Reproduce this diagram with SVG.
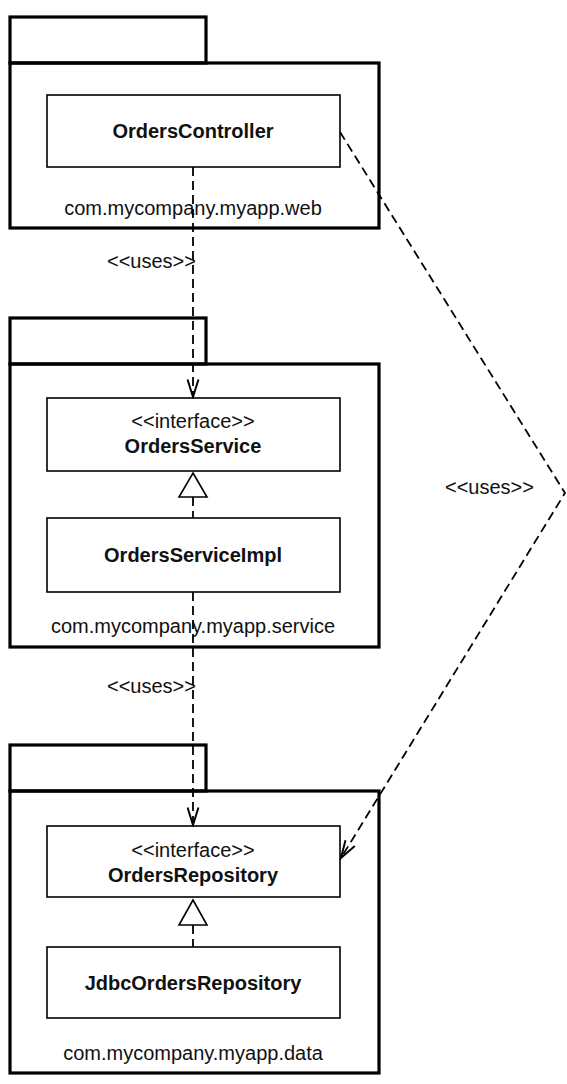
<svg xmlns="http://www.w3.org/2000/svg" width="567" height="1084" viewBox="0 0 567 1084">
<style>
.pkg{fill:none;stroke:#000;stroke-width:3.2}
.cls{fill:#fff;stroke:#000;stroke-width:1.6}
.dash{fill:none;stroke:#000;stroke-width:1.8;stroke-dasharray:9 5}
.tri{fill:#fff;stroke:#000;stroke-width:1.6}
.t{font-family:"Liberation Sans",Arial,sans-serif;fill:#111;text-anchor:middle}
.b{font-size:20px;font-weight:bold}
.n{font-size:20px}
.s{font-size:20px}
.u{font-family:"Liberation Sans",Arial,sans-serif;fill:#111;font-size:20px}
</style>
<defs>
<marker id="open" markerUnits="userSpaceOnUse" markerWidth="24" markerHeight="24" viewBox="-20 -10 22 20" refX="0" refY="0" orient="auto">
<path d="M-16,-5 L0,0 L-16,5" fill="none" stroke="#000" stroke-width="1.8"/>
</marker>
</defs>
<rect width="567" height="1084" fill="#fff"/>
<g id="pkg-web">
<rect class="pkg" x="10" y="17" width="196" height="46"/>
<rect class="pkg" x="10" y="63" width="369" height="165"/>
<text class="t n" x="193" y="215">com.mycompany.myapp.web</text>
</g>
<g id="pkg-service">
<rect class="pkg" x="10" y="318" width="196" height="46"/>
<rect class="pkg" x="10" y="364" width="369" height="283"/>
<text class="t n" x="193" y="633">com.mycompany.myapp.service</text>
</g>
<g id="pkg-data">
<rect class="pkg" x="10" y="745" width="196" height="46"/>
<rect class="pkg" x="10" y="791" width="369" height="282"/>
<text class="t n" x="193" y="1060">com.mycompany.myapp.data</text>
</g>
<g id="OrdersController">
<rect class="cls" x="47" y="95" width="293" height="72"/>
<text class="t b" x="193" y="138">OrdersController</text>
</g>
<g id="OrdersService">
<rect class="cls" x="47" y="398" width="293" height="73"/>
<text class="t s" x="193" y="428">&lt;&lt;interface&gt;&gt;</text>
<text class="t b" x="193" y="453">OrdersService</text>
</g>
<g id="OrdersServiceImpl">
<rect class="cls" x="47" y="518" width="293" height="74"/>
<text class="t b" x="193" y="562">OrdersServiceImpl</text>
</g>
<g id="OrdersRepository">
<rect class="cls" x="47" y="826" width="293" height="71"/>
<text class="t s" x="193" y="857">&lt;&lt;interface&gt;&gt;</text>
<text class="t b" x="193" y="882">OrdersRepository</text>
</g>
<g id="JdbcOrdersRepository">
<rect class="cls" x="47" y="947" width="293" height="71"/>
<text class="t b" x="193" y="990">JdbcOrdersRepository</text>
</g>
<g id="connectors">
<line class="dash" x1="193" y1="167" x2="193" y2="397" marker-end="url(#open)"/>
<line class="dash" x1="193" y1="592" x2="193" y2="825" marker-end="url(#open)"/>
<polyline class="dash" points="340,132 565,493 341,858" marker-end="url(#open)"/>
<line class="dash" x1="193" y1="497" x2="193" y2="518"/>
<line class="dash" x1="193" y1="925" x2="193" y2="947"/>
<polygon class="tri" points="193,473 207,497 179,497"/>
<polygon class="tri" points="193,900 207,925 179,925"/>
<text class="u" x="107" y="268">&lt;&lt;uses&gt;&gt;</text>
<text class="u" x="107" y="693">&lt;&lt;uses&gt;&gt;</text>
<text class="u" x="445" y="494">&lt;&lt;uses&gt;&gt;</text>
</g>
</svg>
